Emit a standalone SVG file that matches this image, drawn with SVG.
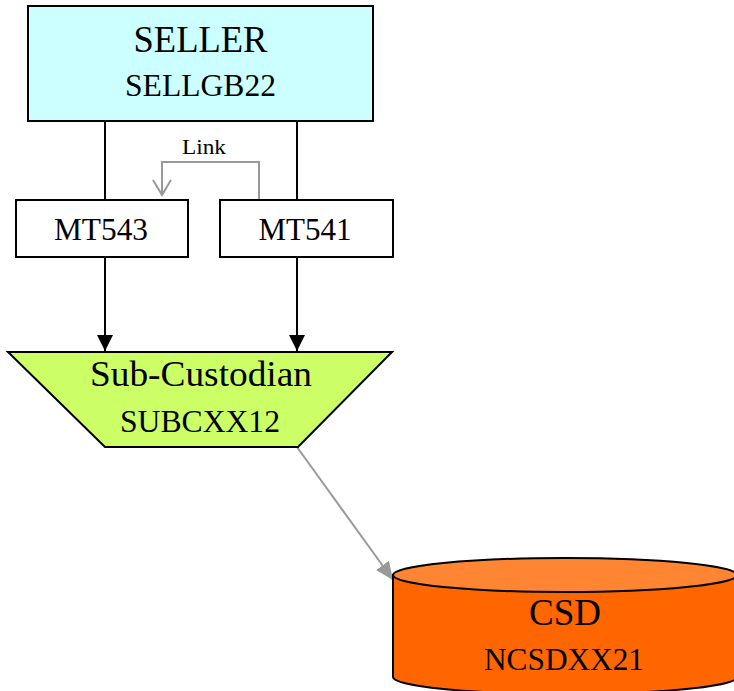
<svg xmlns="http://www.w3.org/2000/svg" width="734" height="691" viewBox="0 0 734 691">
<defs>
<style>
text{font-family:"Liberation Serif","Times New Roman",serif;fill:#000;text-anchor:middle}
.node{stroke:#000;stroke-width:2}
.blk{stroke:#000;stroke-width:2;fill:none}
.gry{stroke:#999;stroke-width:2;fill:none}
</style>
<marker id="ab" markerWidth="16" markerHeight="18" refX="16" refY="8" orient="auto" markerUnits="userSpaceOnUse" viewBox="0 0 16 18">
<path d="M0,0 L16,8 L0,16 Z" fill="#000"/>
</marker>
<marker id="ag" markerWidth="20" markerHeight="18" refX="18" refY="8" orient="auto" markerUnits="userSpaceOnUse" viewBox="0 0 20 18">
<path d="M0,0 L18,8 L0,16 Z" fill="#999"/>
</marker>
</defs>
<rect width="734" height="691" fill="#fff"/>
<g id="connectors">
<line class="blk" x1="105" y1="121" x2="105" y2="200"/>
<line class="blk" x1="297" y1="121" x2="297" y2="200"/>
<line class="blk" x1="105" y1="257" x2="105" y2="351" marker-end="url(#ab)"/>
<line class="blk" x1="297" y1="257" x2="297" y2="351" marker-end="url(#ab)"/>
<path class="gry" d="M259,200 V162 H162 V195"/>
<path class="gry" d="M153,180 L162,195 L171,180"/>
<text x="204" y="154" font-size="22" textLength="44" lengthAdjust="spacingAndGlyphs">Link</text>
<line class="gry" x1="297" y1="447" x2="393" y2="580" marker-end="url(#ag)"/>
</g>
<g id="seller">
<rect class="node" x="28" y="6" width="345" height="115" fill="#CCFFFF"/>
<text x="200.5" y="52" font-size="37" textLength="134" lengthAdjust="spacingAndGlyphs">SELLER</text>
<text x="200.5" y="96" font-size="31" textLength="151" lengthAdjust="spacingAndGlyphs">SELLGB22</text>
</g>
<g id="mt543">
<rect class="node" x="16" y="200" width="172" height="57" fill="#fff"/>
<text x="101" y="240" font-size="31" textLength="94" lengthAdjust="spacingAndGlyphs">MT543</text>
</g>
<g id="mt541">
<rect class="node" x="220" y="200" width="173" height="57" fill="#fff"/>
<text x="305" y="240" font-size="31" textLength="93" lengthAdjust="spacingAndGlyphs">MT541</text>
</g>
<g id="subcustodian">
<polygon class="node" points="8,352 392,352 298,447 105,447" fill="#CCFF66"/>
<text x="201" y="386" font-size="35" textLength="222" lengthAdjust="spacingAndGlyphs">Sub-Custodian</text>
<text x="200" y="432" font-size="32" textLength="160" lengthAdjust="spacingAndGlyphs">SUBCXX12</text>
</g>
<g id="csd">
<path class="node" d="M393,575 V677 A172,17 0 0 0 737,677 V575 Z" fill="#FF6600"/>
<ellipse class="node" cx="565" cy="575" rx="172" ry="17" fill="#FF8533"/>
<text x="565" y="625" font-size="37" textLength="72" lengthAdjust="spacingAndGlyphs">CSD</text>
<text x="564" y="670" font-size="31" textLength="160" lengthAdjust="spacingAndGlyphs">NCSDXX21</text>
</g>
</svg>
